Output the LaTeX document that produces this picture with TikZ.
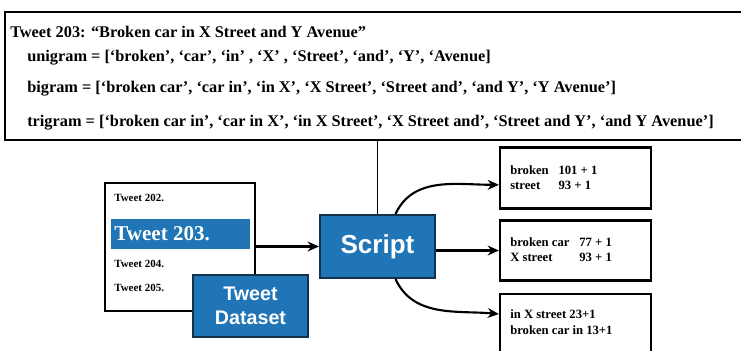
\documentclass[tikz,border=0pt]{standalone}
\usepackage{fontspec}
\setmainfont{Liberation Serif}
\setsansfont{Liberation Sans}
\usetikzlibrary{arrows.meta,positioning}
\definecolor{tweetblue}{HTML}{2075B6}
\definecolor{boxline}{HTML}{15324D}
\tikzset{
  box/.style={draw,line width=1.5pt,inner sep=0pt},
  bluebox/.style={box,fill=tweetblue,draw=boxline,text=white,align=center,font=\sffamily\bfseries},
  flow/.style={-{Stealth[length=8pt,width=7pt]},line width=1.5pt},
  headline/.style={anchor=west,inner sep=0pt,font=\bfseries\fontsize{11.6}{13}\selectfont},
  tweetline/.style={anchor=west,inner sep=0pt,font=\bfseries\fontsize{7.8}{9}\selectfont},
  countline/.style={anchor=west,inner sep=0pt,align=left,font=\bfseries\fontsize{9}{11}\selectfont}
}
\begin{document}
\begin{tikzpicture}[x=0.025cm,y=-0.025cm]
  \useasboundingbox (0,0) rectangle (741,350);
  \clip (0,0) rectangle (741,350);

  \node[box,line width=1.8pt,minimum width=18.5cm,minimum height=3.2cm] (head) at (375,76) {};
  \node[headline] (t203) at (10,32) {Tweet 203: “Broken car in X Street and Y Avenue”};
  \node[headline] (uni) at (27,58) {unigram = [‘broken’, ‘car’, ‘in’ , ‘X’ , ‘Street’, ‘and’, ‘Y’, ‘Avenue]};
  \node[headline] (bi) at (27,89) {bigram = [‘broken car’, ‘car in’, ‘in X’, ‘X Street’, ‘Street and’, ‘and Y’, ‘Y Avenue’]};
  \node[headline] (tri) at (27,123) {trigram = [‘broken car in’, ‘car in X’, ‘in X Street’, ‘X Street and’, ‘Street and Y’, ‘and Y Avenue’]};

  \node[box,minimum width=3.75cm,minimum height=3.2cm] (list) at (180,247) {};
  \node[tweetline] (t202) at (114,198) {Tweet 202.};
  \node[fill=tweetblue,minimum width=3.475cm,minimum height=0.75cm,inner sep=0pt] (bar) at (180.5,234) {};
  \node[anchor=west,inner sep=0pt,text=white,font=\bfseries\fontsize{15}{17}\selectfont] (t203b) at (114,234) {Tweet 203.};
  \node[tweetline] (t204) at (114,264) {Tweet 204.};
  \node[tweetline] (t205) at (114,288) {Tweet 205.};
  \node[bluebox,minimum width=2.875cm,minimum height=1.55cm,font=\sffamily\bfseries\fontsize{14}{17}\selectfont] (data) at (250.5,306) {Tweet\\Dataset};

  \node[bluebox,minimum width=2.875cm,minimum height=1.575cm,font=\sffamily\bfseries\fontsize{18.5}{20}\selectfont] (script) at (377.5,246.5) {Script};

  \node[box,minimum width=3.775cm,minimum height=1.525cm] (out1) at (575.5,178) {};
  \node[countline] (c1) at (510,179) {\begin{tabular}{@{}l@{\hspace{7pt}}l@{}}broken & 101 + 1\\ street & 93 + 1\end{tabular}};
  \node[box,minimum width=3.775cm,minimum height=1.5cm] (out2) at (575.5,250.5) {};
  \node[countline] (c2) at (510,251) {\begin{tabular}{@{}l@{\hspace{7pt}}l@{}}broken car & 77 + 1\\ X street & 93 + 1\end{tabular}};
  \node[box,minimum width=3.775cm,minimum height=1.6cm] (out3) at (575.5,326) {};
  \node[countline] (c3) at (510,322) {in X street 23+1\\broken car in 13+1};

  \draw[line width=1pt] (head.south -| script.north) -- (script.north);
  \draw[flow] (list.east |- script.west) -- (script.west);
  \draw[flow] ([xshift=0.45cm]script.north) to[out=65,in=180] ([yshift=-0.17cm]out1.west);
  \draw[flow] (script.east |- out2.west) -- (out2.west);
  \draw[flow] ([xshift=0.45cm]script.south) to[out=-65,in=175] ([yshift=0.3cm]out3.west);
\end{tikzpicture}
\end{document}
